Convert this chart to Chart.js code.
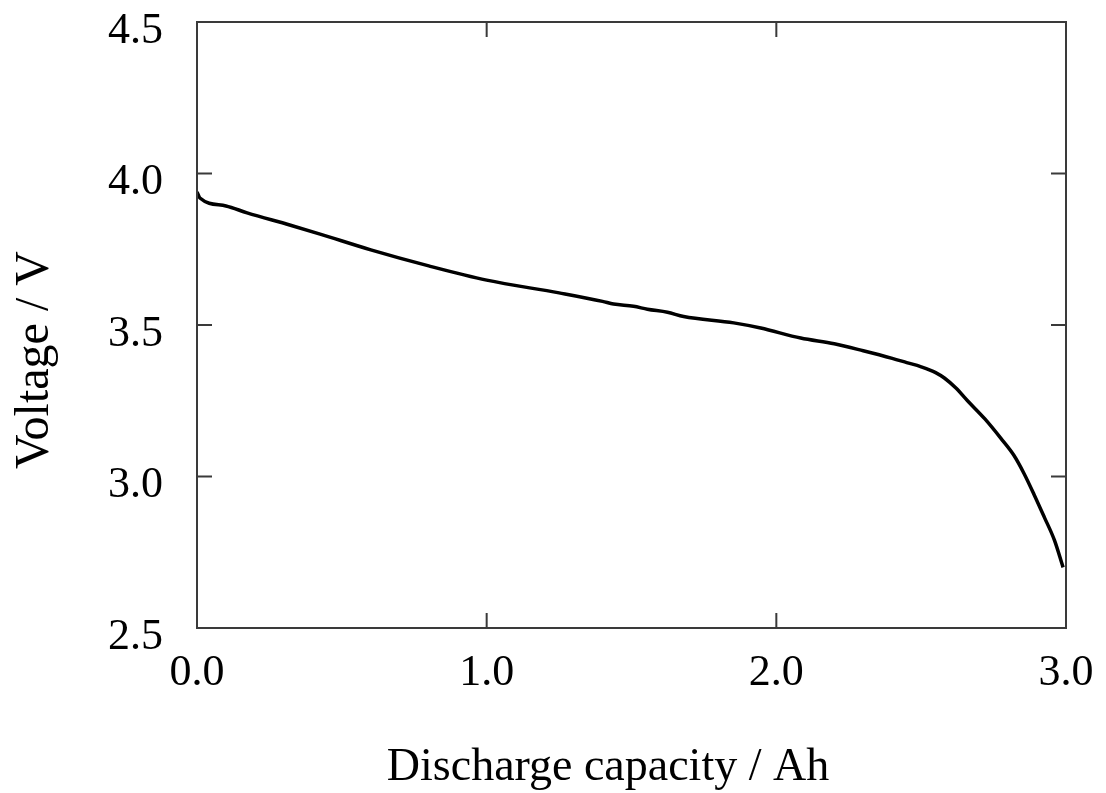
<!DOCTYPE html>
<html>
<head>
<meta charset="utf-8">
<script src="https://cdn.jsdelivr.net/npm/chart.js@4"></script>
<style>
  html, body { margin: 0; padding: 0; background: #fff; }
  #wrap { width: 1106px; height: 793px; }
</style>
</head>
<body>
<div id="wrap"><canvas id="dischargeChart" width="1106" height="793"></canvas></div>
<script>
// Discharge curve
const capacity = [0.0, 0.01, 0.1, 0.173, 0.32, 0.425, 0.6, 0.8, 1.0, 1.25, 1.4, 1.438, 1.507, 1.555, 1.624, 1.68, 1.853, 1.946, 2.084, 2.2, 2.3, 2.4, 2.45, 2.5, 2.55, 2.58, 2.62, 2.66, 2.72, 2.776, 2.82, 2.855, 2.89, 2.925, 2.96, 2.99];
const voltage  = [3.939, 3.919, 3.893, 3.87, 3.83, 3.80, 3.748, 3.695, 3.648, 3.606, 3.578, 3.569, 3.562, 3.552, 3.542, 3.528, 3.507, 3.49, 3.457, 3.438, 3.415, 3.39, 3.376, 3.362, 3.343, 3.325, 3.292, 3.25, 3.19, 3.125, 3.07, 3.01, 2.94, 2.866, 2.79, 2.70];

const xTicks = [0.0, 1.0, 2.0, 3.0];
const yTicks = [2.5, 3.0, 3.5, 4.0, 4.5];
const xTitle = 'Discharge capacity / Ah';
const yTitle = 'Voltage / V';

const FONT = '"Liberation Serif", "Times New Roman", serif';

// frame with inward ticks on all four sides, plus the axis titles
const framePlugin = {
    id: 'frame',
    afterDraw(chart) {
        const { ctx, chartArea: a, scales } = chart;
        const tickLen = 15;
        ctx.save();
        ctx.strokeStyle = '#3a3a3a';
        ctx.lineWidth = 2;
        ctx.strokeRect(a.left, a.top, a.right - a.left, a.bottom - a.top);
        ctx.beginPath();
        xTicks.forEach(v => {
            const px = scales.x.getPixelForValue(v);
            ctx.moveTo(px, a.bottom); ctx.lineTo(px, a.bottom - tickLen);
            ctx.moveTo(px, a.top); ctx.lineTo(px, a.top + tickLen);
        });
        yTicks.forEach(v => {
            const py = scales.y.getPixelForValue(v);
            ctx.moveTo(a.left, py); ctx.lineTo(a.left + tickLen, py);
            ctx.moveTo(a.right, py); ctx.lineTo(a.right - tickLen, py);
        });
        ctx.stroke();

        ctx.fillStyle = '#000';
        ctx.textAlign = 'center';
        ctx.textBaseline = 'alphabetic';
        ctx.font = '46px ' + FONT;
        ctx.fillText(xTitle, 608, 780);

        ctx.font = '48px ' + FONT;
        ctx.translate(48, 360);
        ctx.rotate(-Math.PI / 2);
        ctx.fillText(yTitle, 0, 0);
        ctx.restore();
    }
};

const ctx = document.getElementById('dischargeChart').getContext('2d');
new Chart(ctx, {
    type: 'scatter',
    data: {
        datasets: [{
            label: 'Voltage',
            data: capacity.map((q, i) => ({ x: q, y: voltage[i] })),
            showLine: true,
            borderColor: '#000',
            borderWidth: 3.5,
            pointRadius: 0,
            cubicInterpolationMode: 'monotone'
        }]
    },
    options: {
        responsive: false,
        animation: false,
        layout: { padding: { left: 0, top: 22, right: 40, bottom: 0 } },
        plugins: {
            legend: { display: false },
            tooltip: { enabled: false }
        },
        scales: {
            x: {
                type: 'linear',
                min: 0, max: 3,
                afterBuildTicks: (s) => { s.ticks = xTicks.map(v => ({ value: v })); },
                afterFit: (s) => { s.height = 165; s.paddingLeft = 0; s.paddingRight = 0; },
                grid: { display: false },
                border: { display: false },
                ticks: {
                    color: '#000',
                    font: { family: FONT, size: 44 },
                    padding: 11,
                    callback: (v) => v.toFixed(1)
                }
            },
            y: {
                type: 'linear',
                min: 2.5, max: 4.5,
                afterBuildTicks: (s) => { s.ticks = yTicks.map(v => ({ value: v })); },
                afterFit: (s) => { s.width = 197; s.paddingTop = 0; s.paddingBottom = 0; },
                grid: { display: false },
                border: { display: false },
                ticks: {
                    color: '#000',
                    font: { family: FONT, size: 44 },
                    padding: 26,
                    labelOffset: 9,
                    callback: (v) => v.toFixed(1)
                }
            }
        }
    },
    plugins: [framePlugin]
});
</script>
</body>
</html>
